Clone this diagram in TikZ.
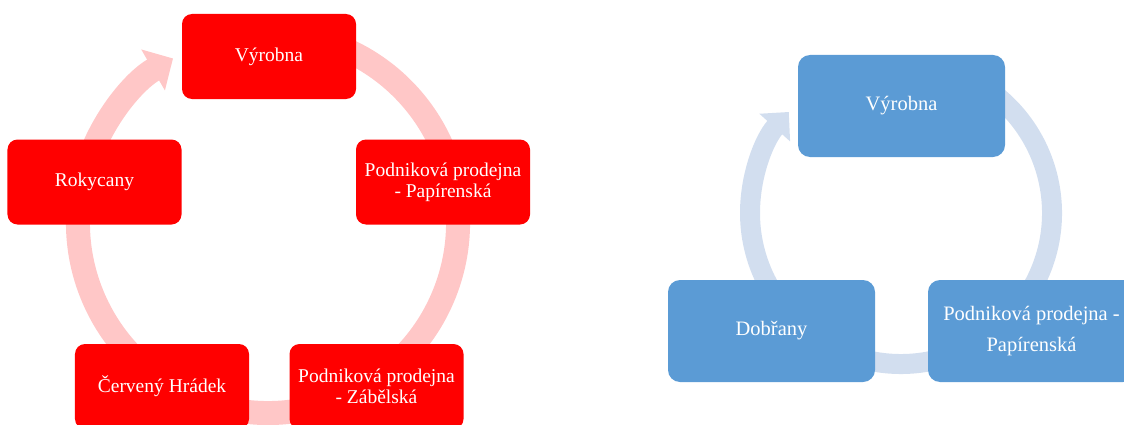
\documentclass[tikz,border=0pt]{standalone}
\usepackage{fontspec}
\setmainfont{Liberation Serif}
\usetikzlibrary{arrows.meta,positioning}

\definecolor{boxred}{HTML}{FF0000}
\definecolor{ringred}{HTML}{FFC7C7}
\definecolor{boxblue}{HTML}{5B9BD5}
\definecolor{ringblue}{HTML}{D2DEEF}

\begin{document}
\begin{tikzpicture}[
        x=1bp, y=1bp,
        redbox/.style={fill=boxred, rounded corners=10bp, text=white, align=center, inner sep=0pt,
            minimum width=174bp, minimum height=85bp, font=\fontsize{19.5bp}{21bp}\selectfont},
        bluebox/.style={fill=boxblue, rounded corners=12bp, text=white, align=center, inner sep=0pt,
            minimum width=207bp, minimum height=102bp, font=\fontsize{20.5bp}{30.7bp}\selectfont},
        redring/.style={draw=ringred, line width=24bp, -{Triangle[width=46bp,length=23bp]}},
        bluering/.style={draw=ringblue, line width=20bp, -{Triangle[width=40bp,length=21bp]}}
    ]

    \useasboundingbox (0,0) rectangle (1124,424);

    % Cycles
    \coordinate (lc) at (268,201);
    \coordinate (rc) at (901,211);
    \draw[redring] ([shift={(70:190)}]lc) arc[start angle=70, end angle=-240, radius=190];
    \draw[bluering] ([shift={(60:151)}]rc) arc[start angle=60, end angle=-222, radius=151];

    % Nodes (left)
    \node[redbox] (vyrobnaL) at (269,367.5) {Výrobna};
    \node[redbox] (papirL) at (443,242) {Podniková prodejna\\- Papírenská};
    \node[redbox] (zabel) at (376.5,37.5) {Podniková prodejna\\- Zábělská};
    \node[redbox] (hradek) at (162,37.5) {Červený Hrádek};
    \node[redbox] (rokycany) at (94.5,242) {Rokycany};

    % Nodes (right)
    \node[bluebox] (vyrobnaR) at (901.5,318) {Výrobna};
    \node[bluebox] (papirR) at (1031.5,93) {Podniková prodejna -\\Papírenská};
    \node[bluebox] (dobrany) at (771.5,93) {Dobřany};

\end{tikzpicture}
\end{document}
